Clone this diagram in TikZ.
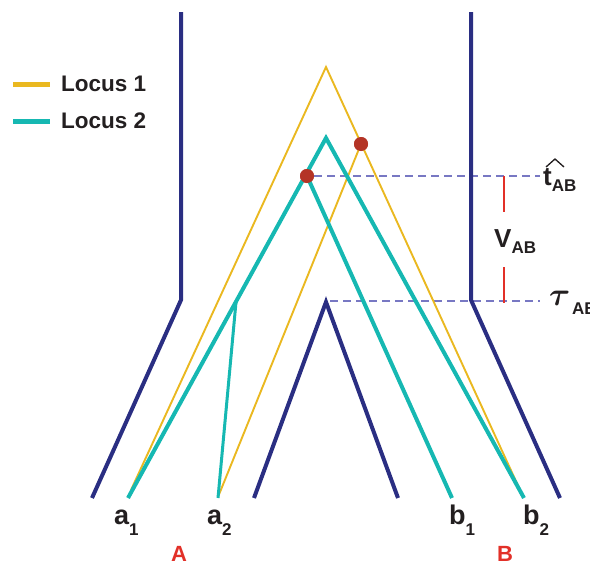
\documentclass[tikz,border=0pt]{standalone}
\usepackage{amsmath}
\usepackage{bm}
\usepackage{graphicx}
\usepackage{fontspec}
\setmainfont{Liberation Sans}
\newfontfamily\heavy{Liberation Sans Bold}
\definecolor{navy}{RGB}{42,46,130}
\definecolor{teal2}{RGB}{22,184,178}
\definecolor{gold}{RGB}{234,184,32}
\definecolor{dotred}{RGB}{180,52,38}
\definecolor{segred}{RGB}{226,48,40}
\definecolor{lav}{RGB}{120,120,195}
\definecolor{ink}{RGB}{35,31,32}
\tikzset{
  species/.style={draw=navy,line width=4pt,line join=miter},
  locusone/.style={draw=gold,line width=1.9pt},
  locustwo/.style={draw=teal2,line width=4pt},
  guide/.style={draw=lav,line width=1.2pt,dash pattern=on 8pt off 5pt},
  marker/.style={draw=segred,line width=2.5pt},
  evt/.style={circle,fill=dotred,inner sep=0pt,minimum size=14pt},
  lbl/.style={inner sep=0pt,text=ink,font=\heavy},
  leglbl/.style={inner sep=0pt,text=ink,font=\heavy\fontsize{22.5}{24}\selectfont,anchor=west},
  poplbl/.style={inner sep=0pt,text=segred,font=\heavy\fontsize{22}{24}\selectfont},
  hatmark/.style={draw=ink,line width=1.3pt,line join=miter},
}
\newcommand{\tiplabel}[2]{{\fontsize{27}{30}\selectfont #1}\raisebox{-11pt}{\fontsize{17}{18}\selectfont #2}}
\newcommand{\symlabel}[1]{{\fontsize{26}{28}\selectfont #1}\raisebox{-6pt}{\fontsize{17}{18}\selectfont AB}}
\begin{document}
\begin{tikzpicture}[x=1pt,y=-1pt]
\useasboundingbox (0,0) rectangle (590,565);
% species tree coordinates
\coordinate (LT) at (181,12);
\coordinate (LB) at (181,300);
\coordinate (LE) at (92,498);
\coordinate (RT) at (471,12);
\coordinate (RB) at (471,300);
\coordinate (RE) at (560,498);
\coordinate (IA) at (326,302);
\coordinate (IL) at (254,498);
\coordinate (IR) at (398,498);
% locus 1
\coordinate (Y0) at (326,67);
\coordinate (Ya1) at (131,490);
\coordinate (Yb2) at (520,490);
\coordinate (Ya2) at (218,497);
% locus 2
\coordinate (T0) at (326,138);
\coordinate (Ta1) at (128,498);
\coordinate (Tb2) at (524,498);
\coordinate (Tb1) at (452,498);
\coordinate (Tj) at (236,302);
\coordinate (Ta2) at (218,498);
% guides
\coordinate (G1) at (540,176);
\coordinate (G2s) at (330,301);
\coordinate (G2) at (540,301);
\coordinate (S1a) at (504,176);
\coordinate (S1b) at (504,212);
\coordinate (S2a) at (504,267);
\coordinate (S2b) at (504,303);
% legend
\coordinate (L1a) at (13,84);
\coordinate (L1b) at (50,84);
\coordinate (L2a) at (13,121);
\coordinate (L2b) at (50,121);
% hat of t
\coordinate (H1) at (546,167);
\coordinate (H2) at (555,159);
\coordinate (H3) at (564,167);

\node[evt] (D1) at (361,144) {};
\node[evt] (D2) at (307,176) {};

% dashed guides
\draw[guide] (D2) -- (G1);
\draw[guide] (G2s) -- (G2);

% locus 1
\draw[locusone] (Ya1) -- (Y0) -- (Yb2);
\draw[locusone] (Ya2) -- (D1.center);

% locus 2
\draw[locustwo] (Ta1) -- (T0) -- (Tb2);
\draw[locustwo] (D2.center) -- (Tb1);
\draw[locustwo,line width=3pt] (Tj) -- (Ta2);

% species tree
\draw[species] (LT) -- (LB) -- (LE);
\draw[species] (RT) -- (RB) -- (RE);
\draw[species] (IL) -- (IA) -- (IR);

% coalescence dots on top
\node[evt] at (D1) {};
\node[evt] at (D2) {};

% markers
\draw[marker] (S1a) -- (S1b);
\draw[marker] (S2a) -- (S2b);

% legend
\draw[locusone,line width=5pt] (L1a) -- (L1b);
\draw[locustwo,line width=5pt] (L2a) -- (L2b);
\node[leglbl] (leg1) at (61,84) {Locus 1};
\node[leglbl] (leg2) at (61,121) {Locus 2};

% tip labels
\node[lbl,anchor=base west] (a1) at (114,524) {\tiplabel{a}{1}};
\node[lbl,anchor=base west] (a2) at (207,524) {\tiplabel{a}{2}};
\node[lbl,anchor=base west] (b1) at (449,524) {\tiplabel{b}{1}};
\node[lbl,anchor=base west] (b2) at (523,524) {\tiplabel{b}{2}};
\node[poplbl] (A) at (179,554) {A};
\node[poplbl] (B) at (505,554) {B};

% time labels
\node[lbl,anchor=base west] (that) at (543,185) {\symlabel{t}};
\draw[hatmark] (H1) -- (H2) -- (H3);
\node[lbl,anchor=base west] (vab) at (494,247) {\symlabel{V}};
\node[lbl,anchor=base west] (tau) at (549,305) {{\fontsize{24}{26}\selectfont\scalebox{1.3}{$\bm{\tau}$}}};
\node[lbl,anchor=base west,font=\heavy\fontsize{17}{18}\selectfont] (tauab) at (572,314) {AB};
\end{tikzpicture}
\end{document}
